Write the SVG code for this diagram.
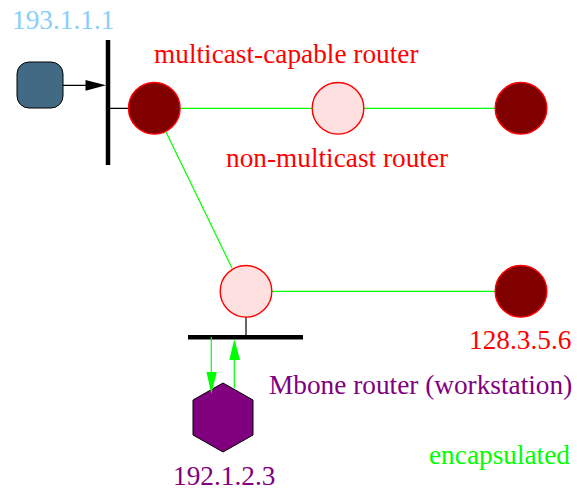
<svg xmlns="http://www.w3.org/2000/svg" width="577" height="490" viewBox="0 0 577 490">
<style>
text{font-family:"Liberation Serif","Times New Roman",serif;font-size:27.3px}
.red{fill:#f00}.pur{fill:#800080}.blue{fill:#87cefa}.grn{fill:#0f0}
.mc{fill:#800000;stroke:#f00;stroke-width:1.4}
.nm{fill:#ffe0e0;stroke:#f00;stroke-width:1.4}
.g{stroke:#0f0;stroke-width:1.2;fill:none}
.k{stroke:#000;stroke-width:1.2;fill:none}
.bar{stroke:#000;stroke-width:4.5;fill:none}
</style>
<rect width="577" height="490" fill="#fff"/>
<g id="connectors">
<path class="g" d="M180 108.300H312M364 108.300H495M166 132L232 268M272 291.300H495"/>
<path class="k" d="M63 85.300H86M110 108.300H128M246 317V337"/>
<path d="M85.500 80L106 85.300L85.500 90.700Z"/>
</g>
<g id="bar1"><path class="bar" d="M108 40V165"/></g>
<g id="bar2"><path class="bar" d="M188 337.300H303"/></g>
<g id="host"><rect x="17" y="62" width="46" height="46" rx="12" fill="#436a85" stroke="#000" stroke-width="1"/></g>
<g id="r1"><circle class="mc" cx="154.300" cy="108.300" r="25.800"/></g>
<g id="r2"><circle class="nm" cx="338" cy="108.300" r="25.800"/></g>
<g id="r3"><circle class="mc" cx="521" cy="108.300" r="25.800"/></g>
<g id="r4"><circle class="nm" cx="246" cy="291.300" r="25.800"/></g>
<g id="r5"><circle class="mc" cx="521" cy="291.300" r="25.800"/></g>
<g id="mbone"><path d="M223 383L253 400V435L223 452L193 435V400Z" fill="#800080" stroke="#000" stroke-width="1"/></g>
<g id="encapsulated-arrows">
<path class="g" d="M211.300 337V372M234.300 388V345"/>
<path d="M206.500 372H216.800L211.300 394Z" fill="#0f0"/>
<path d="M229.300 360H240L234.300 339Z" fill="#0f0"/>
</g>
<g id="labels">
<text class="blue" x="12" y="29">193.1.1.1</text>
<text class="red" x="154" y="63">multicast-capable router</text>
<text class="red" x="226" y="167">non-multicast router</text>
<text class="red" x="469" y="349">128.3.5.6</text>
<text class="pur" x="269" y="394">Mbone router (workstation)</text>
<text class="grn" x="429" y="464">encapsulated</text>
<text class="pur" x="173" y="485">192.1.2.3</text>
</g>
</svg>
